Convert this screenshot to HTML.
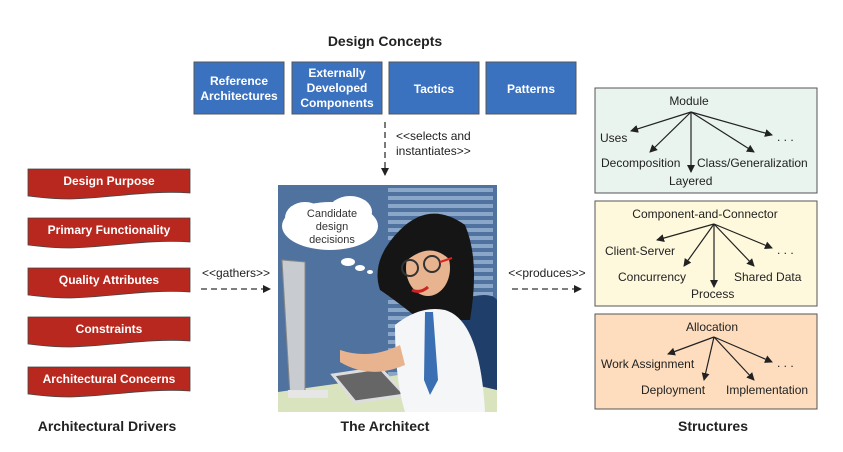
<!DOCTYPE html>
<html><head><meta charset="utf-8"><style>
html,body{margin:0;padding:0;background:#fff;}
svg{display:block;font-family:"Liberation Sans",Arial,sans-serif;}
</style></head><body>
<svg width="843" height="452" viewBox="0 0 843 452" xmlns="http://www.w3.org/2000/svg">
<defs>
<marker id="a" markerWidth="8" markerHeight="8" refX="7" refY="4" orient="auto" markerUnits="userSpaceOnUse"><path d="M0,0 L8,4 L0,8 z" fill="#222"/></marker>
</defs>
<rect width="843" height="452" fill="#fff"/>
<!-- Design concepts -->
<text x="385" y="46" font-size="14" font-weight="bold" text-anchor="middle" fill="#222">Design Concepts</text>
<g fill="#3b72c0" stroke="#555" stroke-width="1">
<rect x="194" y="62" width="90" height="52"/><rect x="292" y="62" width="90" height="52"/>
<rect x="389" y="62" width="90" height="52"/><rect x="486" y="62" width="90" height="52"/>
</g>
<g fill="#fff" font-size="12" font-weight="bold" text-anchor="middle">
<text x="239" y="85">Reference</text><text x="239" y="100">Architectures</text>
<text x="337" y="77">Externally</text><text x="337" y="92">Developed</text><text x="337" y="107">Components</text>
<text x="434" y="93">Tactics</text><text x="531" y="93">Patterns</text>
</g>
<line x1="385" y1="122" x2="385" y2="175" stroke="#333" stroke-width="1.3" stroke-dasharray="6,4" marker-end="url(#a)"/>
<text x="396" y="140" font-size="12" fill="#222">&lt;&lt;selects and</text>
<text x="396" y="155" font-size="12" fill="#222">instantiates&gt;&gt;</text>
<!-- Drivers -->
<g fill="#b8281e" stroke="#444" stroke-width="0.8">
<path d="M28,169 H190 V193 C150,190 110,198 70,199 C50,199 38,197 28,196 Z"/>
<path d="M28,218 H190 V242 C150,239 110,247 70,248 C50,248 38,246 28,245 Z"/>
<path d="M28,268 H190 V292 C150,289 110,297 70,298 C50,298 38,296 28,295 Z"/>
<path d="M28,317 H190 V341 C150,338 110,346 70,347 C50,347 38,345 28,344 Z"/>
<path d="M28,367 H190 V391 C150,388 110,396 70,397 C50,397 38,395 28,394 Z"/>
</g>
<g fill="#fff" font-size="12" font-weight="bold" text-anchor="middle">
<text x="109" y="185">Design Purpose</text>
<text x="109" y="234">Primary Functionality</text>
<text x="109" y="284">Quality Attributes</text>
<text x="109" y="333">Constraints</text>
<text x="109" y="383">Architectural Concerns</text>
</g>
<text x="236" y="277" font-size="12" text-anchor="middle" fill="#222">&lt;&lt;gathers&gt;&gt;</text>
<line x1="201" y1="289" x2="270" y2="289" stroke="#333" stroke-width="1.3" stroke-dasharray="6,4" marker-end="url(#a)"/>
<text x="547" y="277" font-size="12" text-anchor="middle" fill="#222">&lt;&lt;produces&gt;&gt;</text>
<line x1="512" y1="289" x2="581" y2="289" stroke="#333" stroke-width="1.3" stroke-dasharray="6,4" marker-end="url(#a)"/>
<!-- Illustration -->
<rect x="278" y="185" width="219" height="227" fill="#50729f"/>
<g fill="#8aa6c8">
<rect x="388" y="188" width="105" height="4"/><rect x="388" y="196" width="105" height="4"/><rect x="388" y="204" width="105" height="4"/>
<rect x="388" y="212" width="105" height="4"/><rect x="388" y="220" width="105" height="4"/><rect x="388" y="228" width="105" height="4"/>
<rect x="388" y="236" width="105" height="4"/><rect x="388" y="244" width="105" height="4"/><rect x="388" y="252" width="105" height="4"/>
<rect x="388" y="260" width="105" height="4"/><rect x="388" y="268" width="105" height="4"/><rect x="388" y="276" width="105" height="4"/>
<rect x="388" y="284" width="105" height="4"/><rect x="388" y="292" width="105" height="4"/><rect x="388" y="300" width="105" height="4"/>
<rect x="388" y="308" width="105" height="4"/><rect x="388" y="316" width="105" height="4"/><rect x="388" y="324" width="105" height="4"/>
<rect x="388" y="332" width="105" height="4"/><rect x="388" y="340" width="105" height="4"/><rect x="388" y="348" width="105" height="4"/>
<rect x="388" y="356" width="105" height="4"/><rect x="388" y="364" width="105" height="4"/><rect x="388" y="372" width="105" height="4"/>
</g>
<path d="M460,300 Q490,290 497,300 V412 H460 Z" fill="#1f3f6a"/>
<path d="M278,392 L420,372 L497,390 V412 H278 Z" fill="#d9e4bf"/>
<!-- cloud -->
<ellipse cx="330" cy="226" rx="48" ry="24" fill="#fff"/>
<ellipse cx="305" cy="218" rx="20" ry="16" fill="#fff"/><ellipse cx="350" cy="212" rx="22" ry="16" fill="#fff"/>
<ellipse cx="348" cy="262" rx="7" ry="4" fill="#fff"/><ellipse cx="360" cy="268" rx="5" ry="3" fill="#fff"/><ellipse cx="370" cy="272" rx="3" ry="2" fill="#fff"/>
<g font-size="11" fill="#333" text-anchor="middle"><text x="332" y="217">Candidate</text><text x="332" y="230">design</text><text x="332" y="243">decisions</text></g>
<!-- monitor -->
<path d="M282,260 L305,262 L305,390 L290,395 Z" fill="#c8ccd0" stroke="#888"/>
<rect x="288" y="390" width="40" height="8" fill="#e6e6e6"/>
<path d="M333,375 L380,368 L405,395 L355,402 Z" fill="#666" stroke="#ddd" stroke-width="3"/>
<!-- person -->
<path d="M400,230 Q430,200 465,225 Q480,260 470,320 L420,320 Q395,300 380,290 Q370,260 400,230 Z" fill="#151515"/>
<ellipse cx="428" cy="268" rx="22" ry="28" fill="#e8b48f"/>
<path d="M400,240 Q430,215 455,245 L450,260 Q430,240 405,262 Z" fill="#151515"/>
<circle cx="410" cy="268" r="8" fill="none" stroke="#333" stroke-width="2"/><circle cx="432" cy="264" r="8" fill="none" stroke="#333" stroke-width="2"/>
<line x1="440" y1="262" x2="452" y2="258" stroke="#d22" stroke-width="2"/>
<path d="M412,290 Q420,294 428,287" stroke="#c22" stroke-width="3" fill="none"/>
<path d="M395,325 Q420,305 445,310 Q480,320 485,412 L405,412 Q395,380 395,325 Z" fill="#f4f6f8"/>
<path d="M425,312 L433,312 L438,380 L430,395 L424,380 Z" fill="#3b6fb3"/>
<path d="M340,350 Q370,360 400,345 L405,365 Q370,380 340,362 Z" fill="#e8b48f"/>
<!-- Structures -->
<rect x="595" y="88" width="222" height="105" fill="#e9f4ee" stroke="#555"/>
<rect x="595" y="201" width="222" height="105" fill="#fef8dc" stroke="#555"/>
<rect x="595" y="314" width="222" height="95" fill="#fdddbe" stroke="#555"/>
<g stroke="#222" stroke-width="1.2" marker-end="url(#a)">
<line x1="691" y1="112" x2="631" y2="131"/><line x1="691" y1="112" x2="650" y2="152"/>
<line x1="691" y1="112" x2="691" y2="172"/><line x1="691" y1="112" x2="754" y2="152"/>
<line x1="691" y1="112" x2="772" y2="135"/>
<line x1="714" y1="224" x2="657" y2="240"/><line x1="714" y1="224" x2="684" y2="266"/>
<line x1="714" y1="224" x2="714" y2="287"/><line x1="714" y1="224" x2="754" y2="266"/>
<line x1="714" y1="224" x2="772" y2="248"/>
<line x1="714" y1="337" x2="668" y2="354"/><line x1="714" y1="337" x2="704" y2="380"/>
<line x1="714" y1="337" x2="754" y2="380"/><line x1="714" y1="337" x2="772" y2="362"/>
</g>
<g font-size="12" fill="#222">
<text x="689" y="105" text-anchor="middle">Module</text>
<text x="600" y="142">Uses</text><text x="601" y="167">Decomposition</text>
<text x="669" y="185">Layered</text><text x="697" y="167">Class/Generalization</text>
<text x="777" y="141">. . .</text>
<text x="705" y="218" text-anchor="middle">Component-and-Connector</text>
<text x="605" y="255">Client-Server</text><text x="618" y="281">Concurrency</text>
<text x="691" y="298">Process</text><text x="734" y="281">Shared Data</text>
<text x="777" y="254">. . .</text>
<text x="712" y="331" text-anchor="middle">Allocation</text>
<text x="601" y="368">Work Assignment</text><text x="641" y="394">Deployment</text>
<text x="726" y="394">Implementation</text><text x="777" y="367">. . .</text>
</g>
<g font-size="14" font-weight="bold" fill="#222" text-anchor="middle">
<text x="107" y="431">Architectural Drivers</text>
<text x="385" y="431">The Architect</text>
<text x="713" y="431">Structures</text>
</g>
</svg>
</body></html>
